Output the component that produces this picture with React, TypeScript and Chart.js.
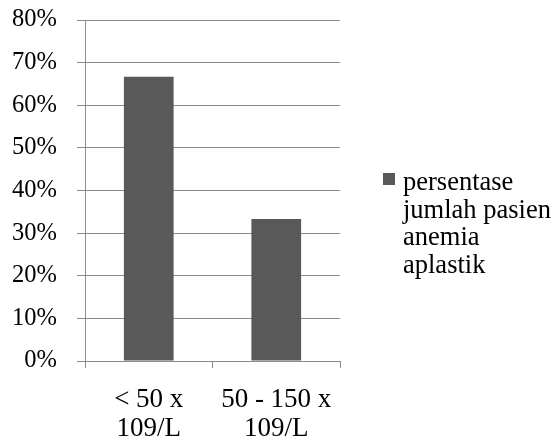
import React, { useEffect, useRef } from "react";
import { Chart, registerables } from "chart.js";

Chart.register(...registerables);

const categories: string[][] = [["< 50 x", "109/L"], ["50 - 150 x", "109/L"]];
const values: number[] = [0.6667, 0.3333];
const yTicks: number[] = [0, 0.1, 0.2, 0.3, 0.4, 0.5, 0.6, 0.7, 0.8];
const legendLines: string[] = ["persentase", "jumlah pasien", "anemia", "aplastik"];

const BAR = "#595959";
const GRID = "#8c8c8c";
const FONT = "'Liberation Serif', 'Times New Roman', serif";

export default function App() {
  const ref = useRef<HTMLCanvasElement | null>(null);
  useEffect(() => {
    if (!ref.current) return;
    const legendPlugin = {
      id: "sideLegend",
      afterDraw(chart: any) {
        const ctx = chart.ctx;
        const ds = chart.data.datasets[0];
        ctx.save();
        ctx.fillStyle = ds.backgroundColor;
        ctx.fillRect(383, 173, 12, 12);
        ctx.fillStyle = "#000";
        ctx.font = `26.5px ${FONT}`;
        ctx.textBaseline = "alphabetic";
        ctx.textAlign = "left";
        legendLines.forEach((t, i) => {
          ctx.fillText(t, 403, 190 + i * 27.7);
        });
        ctx.restore();
      },
    };
    const chart = new Chart(ref.current, {
      type: "bar",
      data: {
        labels: categories,
        datasets: [
          {
            label: legendLines.join(" "),
            data: values,
            backgroundColor: BAR,
            categoryPercentage: 1,
            barPercentage: 0.39,
          },
        ],
      },
      plugins: [legendPlugin],
      options: {
        animation: false,
        responsive: true,
        maintainAspectRatio: false,
        layout: { padding: { left: 0, top: 20, right: 215, bottom: 0 } },
        plugins: { legend: { display: false }, tooltip: { enabled: false } },
        scales: {
          x: {
            offset: true,
            grid: {
              offset: true,
              drawOnChartArea: false,
              color: GRID,
              tickLength: 7,
            },
            border: { color: GRID },
            ticks: {
              color: "#000",
              font: { family: FONT, size: 27, lineHeight: 1.08 },
              padding: 17,
              maxRotation: 0,
              autoSkip: false,
            },
            afterFit(scale: any) {
              scale.height = 75;
            },
          },
          y: {
            min: 0,
            max: 0.8,
            afterBuildTicks(scale: any) {
              scale.ticks = yTicks.map((v) => ({ value: v }));
            },
            grid: { color: GRID, tickLength: 8 },
            border: { color: GRID },
            ticks: {
              color: "#000",
              font: { family: FONT, size: 24.5 },
              padding: 20,
              callback: (v: any) => Math.round(Number(v) * 100) + "%",
            },
            afterFit(scale: any) {
              scale.width = 85;
              scale.paddingTop = 0;
              scale.paddingBottom = 0;
            },
          },
        },
      },
    });
    return () => chart.destroy();
  }, []);
  return (
    <div style={{ position: "absolute", left: 0, top: 0, width: 555, height: 436, background: "#fff" }}>
      <canvas ref={ref} />
    </div>
  );
}
